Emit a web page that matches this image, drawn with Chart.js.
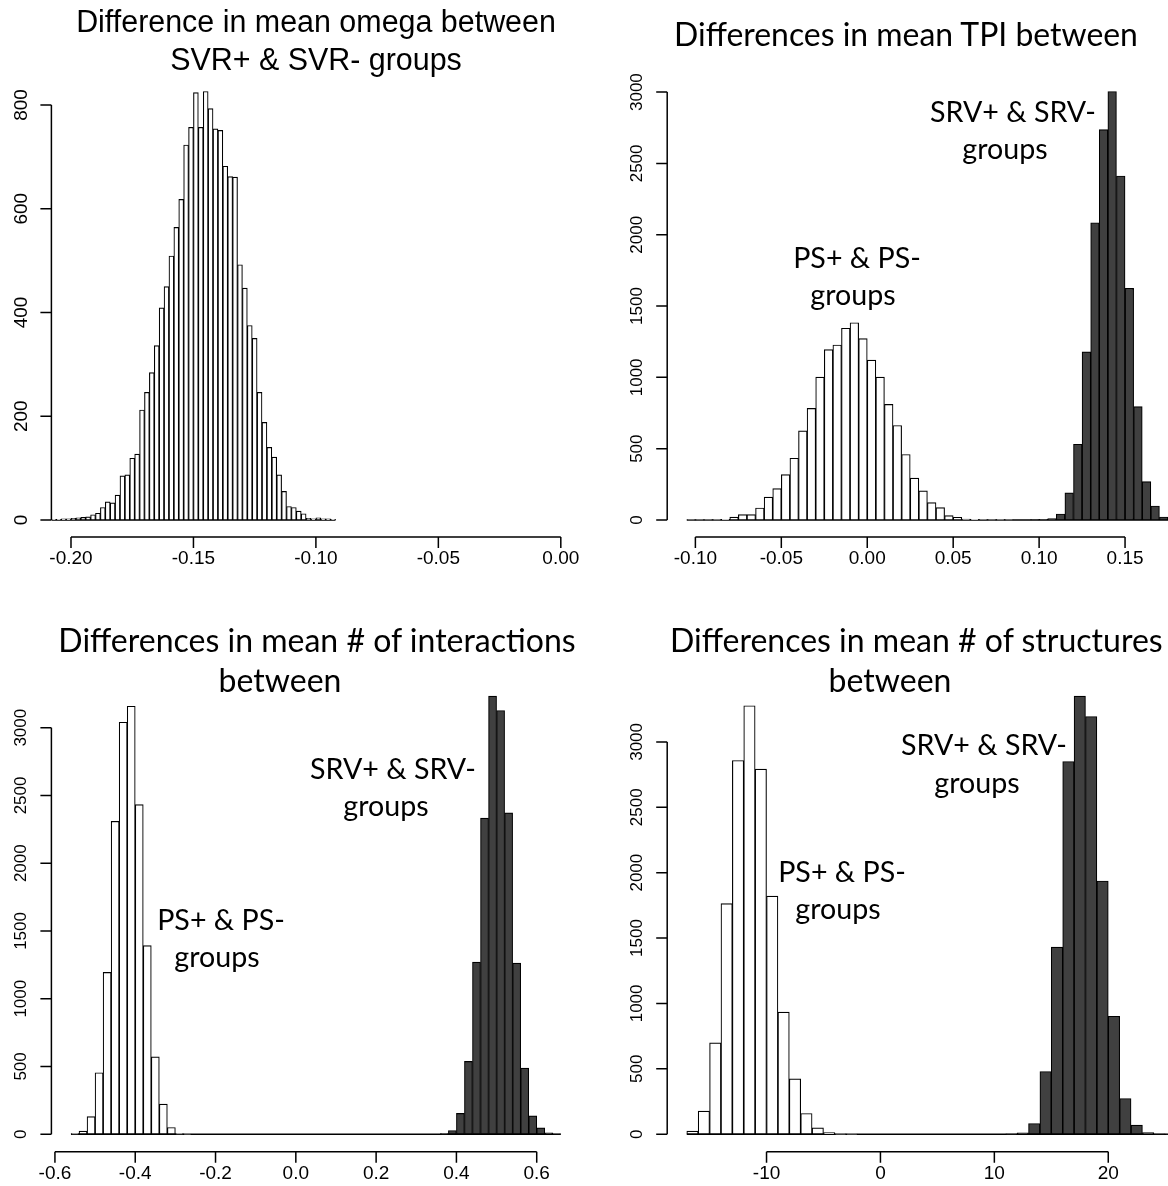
<!DOCTYPE html>
<html><head><meta charset="utf-8">
<script src="https://cdn.jsdelivr.net/npm/chart.js@4.4.0/dist/chart.umd.min.js"></script>
<style>
html,body{margin:0;padding:0;background:#fff;width:1168px;height:1186px;overflow:hidden;position:relative}
canvas{position:absolute}
.t{position:absolute;white-space:nowrap;color:#000}
</style></head><body>
<canvas id="c1" width="584" height="593" style="left:0;top:0"></canvas>
<canvas id="c2" width="640" height="593" style="left:584px;top:0"></canvas>
<canvas id="c3" width="584" height="593" style="left:0;top:593px"></canvas>
<canvas id="c4" width="640" height="593" style="left:584px;top:593px"></canvas>
<script>
// ---------- DATA ----------
// Panel 1: omega (SVR+ vs SVR-)
const omegaBinStart = -0.208, omegaBinWidth = 0.002;
const omegaCounts = [1,1,2,2, 3,4,5,6,10,13,24,35,33,48, 85,87,119,127,212,246,284,336,409,450,
  509,564,618,723,757, 824,757,826,793,754,751,682,662,661,492, 447,375,350,246,188,140,121,87,55,26,
  24,17,12,3,2,4,2,2,1];
const omegaXlim = [-0.2, 0];
const omegaXTicks = [-0.20,-0.15,-0.10,-0.05,0.00];
const omegaXLabels = ['-0.20','-0.15','-0.10','-0.05','0.00'];
const omegaYTicks = [0,200,400,600,800];
const omegaYLabels = ['0','200','400','600','800'];

// Panel 2: TPI
const tpiPsBinStart = -0.105, tpiPsBinWidth = 0.005;
const tpiPsCounts = [1,1,1,2,4,20,37,37,84,160,220,318,433,625,782,1002,1194,1227,1344,1383,1271,1121,1002,810,662,459,293,204,122,87,30,19,7,5,3,1,2,1];
const tpiSrvBinStart = 0.095, tpiSrvBinWidth = 0.005;
const tpiSrvCounts = [2,5,10,42,190,531,1179,2084,2737,3004,2412,1624,795,269,98,21,4];
const tpiXTicks = [-0.10,-0.05,0.00,0.05,0.10,0.15];
const tpiXLabels = ['-0.10','-0.05','0.00','0.05','0.10','0.15'];
const tpiYTicks = [0,500,1000,1500,2000,2500,3000];
const tpiYLabels = ['0','500','1000','1500','2000','2500','3000'];

// Panel 3: # of interactions
const intPsBinStart = -0.56, intPsBinWidth = 0.02;
const intPsCounts = [5,22,130,453,1194,2309,3040,3158,2432,1391,571,222,49,5,1];
const intSrvBinStart = 0.36, intSrvBinWidth = 0.02;
const intSrvCounts = [5,27,153,537,1270,2332,3233,3127,2371,1262,487,135,47,10,2];
const intXTicks = [-0.6,-0.4,-0.2,0.0,0.2,0.4,0.6];
const intXLabels = ['-0.6','-0.4','-0.2','0.0','0.2','0.4','0.6'];
const intYTicks = [0,500,1000,1500,2000,2500,3000];
const intYLabels = ['0','500','1000','1500','2000','2500','3000'];

// Panel 4: # of structures
const strPsBinStart = -17, strPsBinWidth = 1;
const strPsCounts = [23,176,698,1763,2858,3276,2792,1821,933,423,158,48,13,2,1];
const strSrvBinStart = 11, strSrvBinWidth = 1;
const strSrvCounts = [2,10,82,479,1431,2850,3350,3194,1936,902,273,69,13,3,1];
const strXTicks = [-10,0,10,20];
const strXLabels = ['-10','0','10','20'];
const strYTicks = [0,500,1000,1500,2000,2500,3000];
const strYLabels = ['0','500','1000','1500','2000','2500','3000'];

// ---------- STYLE ----------
const WHITE = '#ffffff', DARK = '#404040';
const TICK = 11;

function rAxes(ax) {
  return {
    id: 'rAxes',
    afterDatasetsDraw(chart) {
      const {ctx, chartArea: a, scales: {x, y}} = chart;
      ctx.save();
      ctx.strokeStyle = '#000'; ctx.lineWidth = 1.5;
      ctx.beginPath();
      const yb = y.getPixelForValue(ax.yTicks[0]), yt = y.getPixelForValue(ax.yTicks[ax.yTicks.length - 1]);
      ctx.moveTo(a.left, yb); ctx.lineTo(a.left, yt);
      ax.yTicks.forEach(v => { const p = y.getPixelForValue(v); ctx.moveTo(a.left, p); ctx.lineTo(a.left - TICK, p); });
      const xl = x.getPixelForValue(ax.xTicks[0]), xr = x.getPixelForValue(ax.xTicks[ax.xTicks.length - 1]);
      ctx.moveTo(xl, a.bottom); ctx.lineTo(xr, a.bottom);
      ax.xTicks.forEach(v => { const p = x.getPixelForValue(v); ctx.moveTo(p, a.bottom); ctx.lineTo(p, a.bottom + TICK); });
      ctx.stroke();
      ctx.fillStyle = '#000'; ctx.textAlign = 'center'; ctx.textBaseline = 'middle';
      ctx.font = ax.xFont + 'px "Liberation Sans"';
      ax.xTicks.forEach((v, i) => ctx.fillText(ax.xLabels[i], x.getPixelForValue(v), a.bottom + 22));
      ctx.font = ax.yFont + 'px "Liberation Sans"';
      ax.yTicks.forEach((v, i) => {
        ctx.save(); ctx.translate(a.left - 30, y.getPixelForValue(v)); ctx.rotate(-Math.PI / 2);
        ctx.fillText(ax.yLabels[i], 0, 0); ctx.restore();
      });
      ctx.restore();
    }
  };
}

function panel(id, p) {
  let lo = Infinity, hi = -Infinity, M = 0;
  const datasets = [];
  p.hists.forEach(h => {
    lo = Math.min(lo, h.start); hi = Math.max(hi, h.start + h.width * h.counts.length);
    M = Math.max(M, ...h.counts);
    datasets.push({
      type: 'bar',
      data: h.counts.map((c, i) => ({x: h.start + (i + 0.5) * h.width, y: c})),
      backgroundColor: h.color, borderColor: '#000', borderWidth: 1.15, borderSkipped: false,
      barPercentage: 1, categoryPercentage: 1, grouped: false
    });
  });
  datasets.push({type: 'line', data: [{x: lo, y: 0}, {x: hi, y: 0}], borderColor: '#000', borderWidth: 1.4, pointRadius: 0, fill: false});
  const xl = p.xlim || [lo, hi];
  const xe = 0.04 * (xl[1] - xl[0]);
  new Chart(document.getElementById(id), {
    type: 'bar',
    data: {datasets},
    options: {
      responsive: false, animation: false, devicePixelRatio: 1,
      layout: {padding: p.pad},
      plugins: {legend: {display: false}, tooltip: {enabled: false}},
      scales: {
        x: {type: 'linear', display: false, offset: false, min: xl[0] - xe, max: xl[1] + xe,
            afterBuildTicks: s => { s.ticks = p.axes.xTicks.map(v => ({value: v})); }},
        y: {type: 'linear', display: false, min: -0.04 * M, max: 1.04 * M, beginAtZero: false, grace: 0}
      }
    },
    plugins: [rAxes(p.axes)]
  });
}

// plot regions: top row y 74.4..537.1, bottom row 678.6..1151.7 ; left edges 51.4 / 667.2 ; width 529
panel('c1', {
  hists: [{start: omegaBinStart, width: omegaBinWidth, counts: omegaCounts, color: WHITE}],
  xlim: omegaXlim,
  pad: {left: 51.4, top: 74.4, right: 584 - 580.4, bottom: 593 - 537.1},
  axes: {xTicks: omegaXTicks, xLabels: omegaXLabels, yTicks: omegaYTicks, yLabels: omegaYLabels, xFont: 19, yFont: 19}
});
panel('c2', {
  hists: [{start: tpiPsBinStart, width: tpiPsBinWidth, counts: tpiPsCounts, color: WHITE},
          {start: tpiSrvBinStart, width: tpiSrvBinWidth, counts: tpiSrvCounts, color: DARK}],
  pad: {left: 83.2, top: 74.4, right: 640 - 612.2, bottom: 593 - 537.1},
  axes: {xTicks: tpiXTicks, xLabels: tpiXLabels, yTicks: tpiYTicks, yLabels: tpiYLabels, xFont: 19, yFont: 17}
});
panel('c3', {
  hists: [{start: intPsBinStart, width: intPsBinWidth, counts: intPsCounts, color: WHITE},
          {start: intSrvBinStart, width: intSrvBinWidth, counts: intSrvCounts, color: DARK}],
  pad: {left: 51.4, top: 85.6, right: 584 - 580.4, bottom: 593 - 558.7},
  axes: {xTicks: intXTicks, xLabels: intXLabels, yTicks: intYTicks, yLabels: intYLabels, xFont: 19, yFont: 17}
});
panel('c4', {
  hists: [{start: strPsBinStart, width: strPsBinWidth, counts: strPsCounts, color: WHITE},
          {start: strSrvBinStart, width: strSrvBinWidth, counts: strSrvCounts, color: DARK}],
  pad: {left: 83.2, top: 85.6, right: 640 - 612.2, bottom: 593 - 558.7},
  axes: {xTicks: strXTicks, xLabels: strXLabels, yTicks: strYTicks, yLabels: strYLabels, xFont: 19, yFont: 17}
});

// ---------- TEXT (titles & annotations) ----------
const meas = document.createElement('canvas').getContext('2d');
function fit(text, fam, w) { meas.font = '100px "' + fam + '"'; return 100 * w / meas.measureText(text).width; }
function place(text, fam, size, x, base, anchor) {
  const d = document.createElement('div');
  d.className = 't'; d.textContent = text;
  d.style.fontFamily = '"' + fam + '"'; d.style.fontSize = size + 'px'; d.style.lineHeight = size + 'px';
  meas.font = size + 'px "' + fam + '"';
  const m = meas.measureText(text);
  const A = m.fontBoundingBoxAscent, D = m.fontBoundingBoxDescent;
  d.style.top = (base - ((size - (A + D)) / 2 + A)) + 'px';
  d.style.left = x + 'px';
  if (anchor !== 'left') d.style.transform = 'translateX(-50%)';
  document.body.appendChild(d);
}
const R = 'Liberation Sans', C = 'Lato';
const sT1 = fit('Difference in mean omega between', R, 480);
const sT2 = fit('Differences in mean TPI between', C, 465);
const sT3 = fit('Differences in mean # of interactions', C, 518);
const sA = fit('SRV+ & SRV-', C, 166);

place('Difference in mean omega between', R, sT1, 316, 32);
place('SVR+ & SVR- groups', R, sT1, 316, 70);
place('Differences in mean TPI between', C, sT2, 906, 46);
place('PS+ & PS-', C, sA, 857, 268);
place('groups', C, sA, 853, 305);
place('SRV+ & SRV-', C, sA, 1013, 122);
place('groups', C, sA, 1005, 159);

place('Differences in mean # of interactions', C, sT3, 317, 653);
place('between', C, sT3, 280, 693);
place('SRV+ & SRV-', C, sA, 393, 779);
place('groups', C, sA, 386, 816);
place('PS+ & PS-', C, sA, 221, 930);
place('groups', C, sA, 217, 967);

place('Differences in mean # of structures', C, sT3, 670, 653, 'left');
place('between', C, sT3, 890, 693);
place('SRV+ & SRV-', C, sA, 984, 755);
place('groups', C, sA, 977, 793);
place('PS+ & PS-', C, sA, 842, 882);
place('groups', C, sA, 838, 919);
</script>
</body></html>
